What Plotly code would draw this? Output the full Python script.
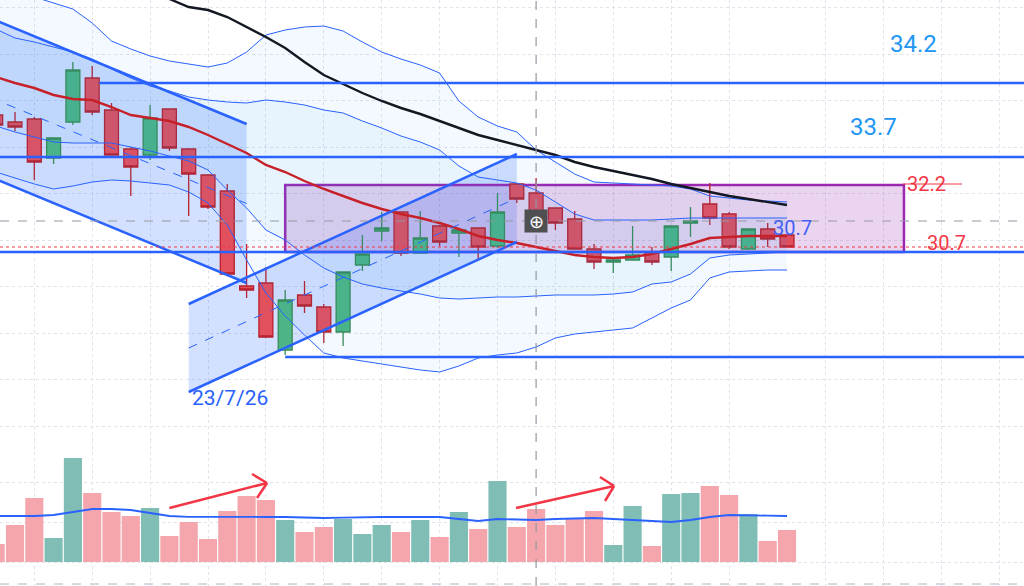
import plotly.graph_objects as go

# session index on the x axis, oldest bar on the left
bars = list(range(42))

opens = [34.025, 33.85, 33.925, 32.95, 33.85, 34.95, 34.15, 33.175, 33.025, 34.175,
         33.175, 32.525, 32.125, 29.75, 29.825, 28.15, 29.525, 29.225, 28.6, 30.275,
         31.125, 31.6, 30.575, 31.25, 31.075, 31.2, 30.75, 32.3, 32.075, 31.7,
         31.425, 30.675, 30.35, 30.4, 30.6, 30.475, 31.325, 31.8, 31.55, 30.675,
         31.175, 31.025]
highs = [34.1, 34.1, 33.975, 33.45, 35.35, 35.25, 34.325, 33.225, 34.275, 34.175,
         33.175, 32.525, 32.3, 30.8, 30.225, 29.65, 29.875, 29.3, 30.1, 31.025,
         31.6, 31.6, 31.625, 31.275, 31.2, 31.2, 32.075, 32.3, 32.45, 31.7,
         31.625, 30.8, 30.475, 31.25, 30.725, 31.25, 31.725, 32.325, 31.6, 31.175,
         31.325, 31.025]
lows = [33.7, 33.625, 32.4, 32.8, 33.775, 34.025, 33.025, 32.0, 32.9, 33.125,
        31.5, 31.675, 30.05, 29.45, 28.45, 28.025, 29.075, 28.325, 28.25, 30.125,
        30.875, 30.5, 30.575, 30.75, 30.475, 30.4, 30.7, 31.825, 31.525, 31.15,
        30.675, 30.175, 30.075, 30.4, 30.275, 30.125, 30.975, 31.275, 30.675, 30.65,
        30.725, 30.725]
closes = [33.775, 33.725, 32.85, 33.45, 35.15, 34.1, 33.025, 32.725, 33.95, 33.2,
          32.55, 31.725, 30.05, 29.65, 28.475, 29.4, 29.25, 28.6, 30.1, 30.55,
          31.2, 30.575, 30.95, 30.85, 31.15, 30.725, 31.6, 31.925, 31.6, 31.325,
          30.675, 30.35, 30.4, 30.525, 30.35, 31.25, 31.375, 31.45, 30.725, 31.175,
          30.925, 30.725]

# volume (millions) and its moving average
volumes = [0.45, 0.925, 1.6, 0.6, 2.6, 1.725, 1.25, 1.15, 1.35, 0.65,
           1.0, 0.575, 1.275, 1.65, 1.55, 1.05, 0.75, 0.875, 1.075, 0.7,
           0.925, 0.75, 1.05, 0.625, 1.25, 0.825, 2.025, 0.875, 1.325, 0.925,
           1.1, 1.275, 0.425, 1.4, 0.4, 1.7, 1.725, 1.9, 1.675, 1.2,
           0.525, 0.8]
vol_ma = [1.15, 1.15, 1.15, 1.175, 1.25, 1.325, 1.325, 1.3, 1.225, 1.15,
          1.13, 1.125, 1.125, 1.125, 1.125, 1.125, 1.11, 1.1, 1.11, 1.125,
          1.125, 1.125, 1.125, 1.125, 1.075, 1.025, 1.075, 1.06, 1.05, 1.075,
          1.09, 1.1, 1.075, 1.05, 1.03, 1.0, 1.05, 1.125, 1.175, 1.175,
          1.16, 1.15]

# moving averages and the two bollinger envelopes
ma_red = [34.975, 34.825, 34.7, 34.525, 34.425, 34.4, 34.225, 34.025, 33.95, 33.875,
          33.725, 33.525, 33.3, 33.075, 32.775, 32.6, 32.375, 32.175, 32.0, 31.825,
          31.675, 31.55, 31.45, 31.325, 31.175, 31.0, 30.9, 30.825, 30.725, 30.625,
          30.525, 30.475, 30.45, 30.475, 30.55, 30.675, 30.8, 30.95, 30.975, 31.0,
          31.0, 31.0]
black_start = 8
ma_black = [37.1, 36.925, 36.725, 36.65, 36.475, 36.225, 35.975, 35.7, 35.35, 35.025,
            34.8, 34.575, 34.375, 34.2, 34.05, 33.875, 33.7, 33.525, 33.4, 33.275,
            33.15, 33.025, 32.85, 32.725, 32.625, 32.525, 32.425, 32.3, 32.2, 32.1,
            32.0, 31.925, 31.85, 31.775]
bb_outer_up = [37.35, 37.15, 36.975, 36.825, 36.675, 36.325, 35.875, 35.675, 35.5, 35.375,
               35.3, 35.225, 35.325, 35.6, 36.025, 36.15, 36.225, 36.25, 36.125, 35.85,
               35.6, 35.425, 35.275, 35.075, 34.375, 33.975, 33.75, 33.6, 33.15, 32.85,
               32.55, 32.35, 32.325, 32.3, 32.275, 32.25, 32.175, 32.0, 31.95, 31.9,
               31.875, 31.85]
bb_inner_up = [36.175, 35.95, 35.85, 35.725, 35.6, 35.425, 35.175, 34.95, 34.75, 34.625,
               34.475, 34.4, 34.35, 34.325, 34.4, 34.35, 34.275, 34.15, 34.075, 33.875,
               33.7, 33.5, 33.35, 33.15, 32.75, 32.475, 32.4, 32.325, 32.15, 31.85,
               31.55, 31.4, 31.4, 31.4, 31.4, 31.425, 31.45, 31.45, 31.45, 31.45,
               31.45, 31.45]
bb_inner_dn = [33.75, 33.6, 33.475, 33.35, 33.325, 33.325, 33.325, 33.225, 33.125, 33.0,
               32.875, 32.65, 32.15, 31.7, 31.15, 30.9, 30.525, 30.2, 29.975, 29.8,
               29.7, 29.625, 29.55, 29.45, 29.425, 29.45, 29.475, 29.475, 29.5, 29.525,
               29.525, 29.525, 29.55, 29.6, 29.8, 29.85, 30.05, 30.45, 30.525, 30.55,
               30.575, 30.6]
bb_outer_dn = [32.6, 32.45, 32.3, 32.175, 32.25, 32.35, 32.4, 32.375, 32.325, 32.275,
               32.1, 31.825, 31.275, 30.4, 29.575, 29.0, 28.525, 28.075, 27.95, 27.875,
               27.8, 27.725, 27.65, 27.6, 27.75, 27.95, 28.025, 28.075, 28.225, 28.45,
               28.55, 28.6, 28.65, 28.7, 28.95, 29.2, 29.4, 29.95, 30.1, 30.125,
               30.15, 30.15]

# analyst drawings: (bar index, price)
down_channel = {"x": [-2, 13], "top": [36.79, 33.8], "bottom": [32.82, 29.825]}
up_channel = {"x": [10, 27], "top": [29.3, 33.05], "bottom": [27.1, 30.85]}
rays = [(5.37, 34.825), (-5, 32.975), (-5, 30.6), (15, 27.975)]
range_box = {"x": [15, 47.06], "y": [30.6, 32.275]}
cursor = (28, 31.375)
vol_arrows = [((9, 1.35), (14.06, 1.975), (13.28, 2.2), (13.54, 1.6)),
              ((26.96, 1.35), (32.04, 1.9), (31.31, 2.125), (31.57, 1.525))]
grid_bars = [2, 5, 8, 11, 14, 17, 20, 23, 26, 29, 32, 35, 38, 43, 46, 49, 52]

BLUE = "#2962ff"
RED = "#f23645"

fig = go.Figure()

# bollinger fills (2 sigma pale, 1 sigma a touch stronger)
band_fill = "rgba(33,150,243,0.055)"
fig.add_trace(go.Scatter(x=bars, y=bb_outer_up, mode="lines",
                         line=dict(color=BLUE, width=1)))
fig.add_trace(go.Scatter(x=bars, y=bb_outer_dn, mode="lines", fill="tonexty",
                         fillcolor=band_fill, line=dict(color=BLUE, width=1)))
fig.add_trace(go.Scatter(x=bars, y=bb_inner_up, mode="lines",
                         line=dict(color=BLUE, width=1)))
fig.add_trace(go.Scatter(x=bars, y=bb_inner_dn, mode="lines", fill="tonexty",
                         fillcolor=band_fill, line=dict(color=BLUE, width=1)))

fig.add_trace(go.Scatter(x=bars, y=ma_red, mode="lines",
                         line=dict(color="#c62028", width=2.4)))
fig.add_trace(go.Scatter(x=bars[black_start:], y=ma_black, mode="lines",
                         line=dict(color="#131722", width=2.4)))

fig.add_trace(go.Candlestick(
    x=bars, open=opens, high=highs, low=lows, close=closes,
    increasing=dict(fillcolor="#4db585", line=dict(color="#3a8c52", width=1.3)),
    decreasing=dict(fillcolor="#e2505e", line=dict(color="#b8202d", width=1.3)),
    whiskerwidth=0))

vol_colors = ["#80bdb4" if c >= o else "#f5a6ac" for o, c in zip(opens, closes)]
fig.add_trace(go.Bar(x=bars, y=volumes, marker_color=vol_colors, marker_line_width=0,
                     xaxis="x2", yaxis="y2"))
fig.add_trace(go.Scatter(x=bars, y=vol_ma, mode="lines", xaxis="x2", yaxis="y2",
                         line=dict(color=BLUE, width=1.8)))

shapes = []
chan_fill = "rgba(41,98,255,0.2)"
for ch in (down_channel, up_channel):
    (xa, xb), (ta, tb), (ba, bb) = ch["x"], ch["top"], ch["bottom"]
    shapes.append(dict(type="path", xref="x", yref="y", layer="between",
                       path=f"M {xa},{ta} L {xb},{tb} L {xb},{bb} L {xa},{ba} Z",
                       fillcolor=chan_fill, line=dict(width=0)))
    for ya, yb in ((ta, tb), (ba, bb)):
        shapes.append(dict(type="line", xref="x", yref="y", x0=xa, x1=xb, y0=ya, y1=yb,
                           line=dict(color=BLUE, width=2.5)))
    shapes.append(dict(type="line", xref="x", yref="y", x0=xa, x1=xb,
                       y0=(ta + ba) / 2, y1=(tb + bb) / 2,
                       line=dict(color=BLUE, width=1, dash="dash")))

for x0, level in rays:
    shapes.append(dict(type="line", xref="x", yref="y", x0=x0, x1=60, y0=level, y1=level,
                       line=dict(color=BLUE, width=2.5)))

shapes.append(dict(type="rect", xref="x", yref="y", layer="between",
                   x0=range_box["x"][0], x1=range_box["x"][1],
                   y0=range_box["y"][0], y1=range_box["y"][1],
                   fillcolor="rgba(156,39,176,0.2)", line=dict(color="#9c27b0", width=2.5)))
shapes.append(dict(type="line", xref="x", yref="y", x0=47.0, x1=50.07, y0=32.3, y1=32.3,
                   line=dict(color=RED, width=1)))

# last price line
shapes.append(dict(type="line", xref="paper", yref="y", x0=0, x1=1,
                   y0=closes[-1], y1=closes[-1], line=dict(color=RED, width=1, dash="dot")))

# crosshair
shapes.append(dict(type="line", xref="x", yref="paper", x0=cursor[0], x1=cursor[0], y0=0, y1=1,
                   line=dict(color="#9598a1", width=1.2, dash="dash")))
shapes.append(dict(type="line", xref="paper", yref="y", x0=0, x1=1, y0=cursor[1], y1=cursor[1],
                   line=dict(color="#9598a1", width=1.2, dash="dash")))
shapes.append(dict(type="line", xref="paper", yref="y2", x0=0, x1=1, y0=-0.55, y1=-0.55,
                   line=dict(color="#b2b5be", width=1.2, dash="dash")))

for start, tip, arm1, arm2 in vol_arrows:
    for a in (start, arm1, arm2):
        shapes.append(dict(type="line", xref="x2", yref="y2", x0=a[0], y0=a[1],
                           x1=tip[0], y1=tip[1], line=dict(color=RED, width=2.5)))

annotations = [
    dict(x=47.53, y=35.8, text="34.2", font=dict(color="#2196f3", size=24)),
    dict(x=45.5, y=33.725, text="33.7", font=dict(color="#2196f3", size=24)),
    dict(x=48.25, y=32.3, text="32.2", font=dict(color=RED, size=20)),
    dict(x=49.29, y=30.825, text="30.7", font=dict(color=RED, size=20)),
    dict(x=41.31, y=31.2, text="30.7", font=dict(color="#4360f5", size=20)),
    dict(x=12.14, y=26.95, text="23/7/26", font=dict(color=BLUE, size=21)),
    dict(x=cursor[0], y=cursor[1], text="⊕", font=dict(color="white", size=18),
         bgcolor="#4f4f52", width=22, height=22, borderpad=0),
]
for a in annotations:
    a.update(xref="x", yref="y", showarrow=False)
    a["font"]["family"] = "Roboto"

split = 146 / 586
grid = dict(showgrid=True, gridcolor="#e0e3eb", griddash="dot", gridwidth=1,
            zeroline=False, showticklabels=False, ticks="", showline=False)
fig.update_layout(
    width=1024, height=586, margin=dict(l=0, r=0, t=0, b=0),
    paper_bgcolor="white", plot_bgcolor="white",
    showlegend=False, hovermode=False, bargap=0.06, boxgap=0.15, boxgroupgap=0.15,
    xaxis=dict(grid, domain=[0, 1], anchor="y", range=[0.2228, 53.28],
               tickmode="array", tickvals=grid_bars, rangeslider=dict(visible=False)),
    xaxis2=dict(grid, domain=[0, 1], anchor="y2", matches="x",
                tickmode="array", tickvals=grid_bars),
    yaxis=dict(grid, domain=[split, 1], range=[25.9, 36.9], tick0=30.9, dtick=1.1625),
    yaxis2=dict(grid, domain=[0, split], range=[-0.6, 3.05], tickmode="array",
                tickvals=[0, 1, 2]),
    shapes=shapes, annotations=annotations,
)

# drop the page's default body margin so the 1024x586 figure fills the window
fig.write_html("out.html", config={"displayModeBar": False},
               post_script="document.body.style.margin='0';")
